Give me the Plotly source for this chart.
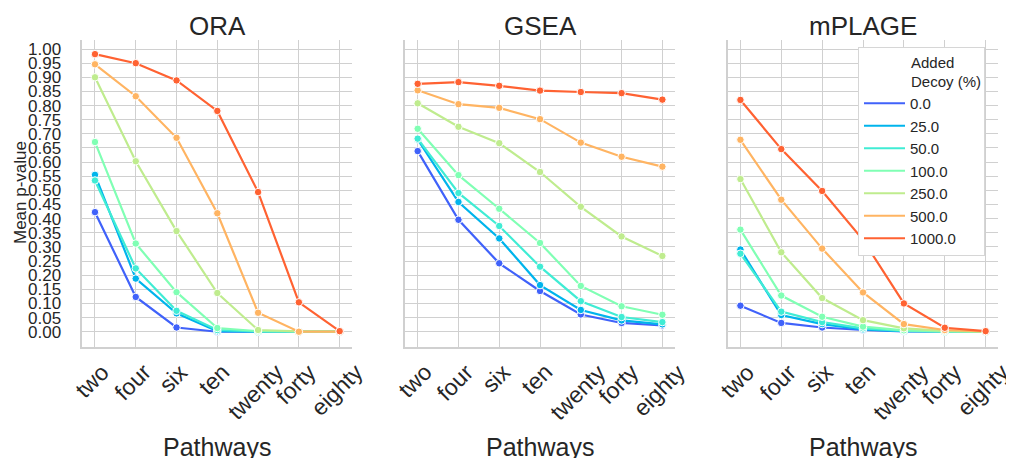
import plotly.graph_objects as go

pathways = ["two", "four", "six", "ten", "twenty", "forty", "eighty"]
decoys = ["0.0", "25.0", "50.0", "100.0", "250.0", "500.0", "1000.0"]
colors = ["#4062fa", "#00b4ec", "#40ecd4", "#80ffb4", "#bfec8e", "#ffb462", "#ff6232"]
methods = ["ORA", "GSEA", "mPLAGE"]

ora = [
    [0.423, 0.123, 0.015, 0.000, 0.000, 0.000, 0.000],
    [0.555, 0.188, 0.065, 0.002, 0.000, 0.000, 0.000],
    [0.535, 0.224, 0.074, 0.006, 0.001, 0.000, 0.000],
    [0.671, 0.312, 0.140, 0.013, 0.002, 0.000, 0.000],
    [0.900, 0.603, 0.356, 0.137, 0.006, 0.001, 0.000],
    [0.946, 0.833, 0.686, 0.419, 0.067, 0.000, 0.000],
    [0.982, 0.950, 0.889, 0.781, 0.494, 0.104, 0.002],
]
gsea = [
    [0.639, 0.396, 0.242, 0.144, 0.061, 0.031, 0.022],
    [0.680, 0.459, 0.330, 0.165, 0.077, 0.040, 0.026],
    [0.683, 0.491, 0.374, 0.230, 0.108, 0.052, 0.034],
    [0.718, 0.554, 0.435, 0.314, 0.162, 0.090, 0.060],
    [0.808, 0.725, 0.667, 0.565, 0.442, 0.337, 0.268],
    [0.854, 0.805, 0.792, 0.752, 0.669, 0.619, 0.584],
    [0.877, 0.883, 0.870, 0.853, 0.848, 0.844, 0.821],
]
mplage = [
    [0.092, 0.031, 0.015, 0.006, 0.001, 0.000, 0.000],
    [0.291, 0.059, 0.027, 0.008, 0.002, 0.000, 0.000],
    [0.276, 0.071, 0.034, 0.012, 0.003, 0.000, 0.000],
    [0.361, 0.128, 0.053, 0.018, 0.005, 0.001, 0.000],
    [0.540, 0.281, 0.119, 0.041, 0.012, 0.003, 0.000],
    [0.679, 0.467, 0.294, 0.139, 0.027, 0.006, 0.001],
    [0.820, 0.646, 0.498, 0.325, 0.100, 0.014, 0.002],
]
yticks = [round(i * 0.05, 2) for i in range(21)]

# the page body has an 8px margin, so the figure is laid out in a 1006x450 box
OFF = 8
W, H = 1014 - OFF, 458 - OFF


def px(x):
    return (x - OFF) / W


def py(y):
    return 1 - (y - OFF) / H


FONT = "Liberation Sans, Arial, sans-serif"
TXT = "#262626"
GRID = "#d0d0d0"

x_domains = [[px(82.3), px(352.3)], [px(405), px(675)], [px(727.7), px(998.3)]]
y_domain = [py(346.7), py(40)]
x_range = [-0.311, 6.31]
y_range = [-0.053, 1.032]

fig = go.Figure()
all_data = [ora, gsea, mplage]
for p, data in enumerate(all_data):
    xa = "x" if p == 0 else f"x{p+1}"
    ya = "y" if p == 0 else f"y{p+1}"
    for i, vals in enumerate(data):
        fig.add_trace(go.Scatter(
            x=pathways, y=vals, mode="lines+markers", xaxis=xa, yaxis=ya,
            line=dict(color=colors[i], width=2.2),
            marker=dict(color=colors[i], size=7.5, line=dict(color="white", width=1)),
            showlegend=False, legendgroup=decoys[i], name=decoys[i],
        ))

for i, d in enumerate(decoys):
    fig.add_trace(go.Scatter(
        x=[None], y=[None], mode="lines", xaxis="x3", yaxis="y3",
        line=dict(color=colors[i], width=2.2), name=d, legendgroup=d, showlegend=True,
    ))

NB = "\u00a0" * 12
layout = dict(
    width=W, height=H, autosize=False,
    margin=dict(l=0, r=0, t=0, b=0),
    paper_bgcolor="white", plot_bgcolor="white",
    font=dict(family=FONT, color=TXT),
    legend=dict(
        x=px(858), y=py(47), xanchor="left", yanchor="top",
        bgcolor="white", bordercolor="#d6d6d6", borderwidth=1,
        font=dict(size=15, family=FONT, color=TXT),
        itemwidth=41,
        title=dict(text=NB + "Added<br>" + NB + "Decoy (%)",
                   font=dict(size=15, family=FONT, color=TXT)),
        tracegroupgap=0,
    ),
)
annotations = []
for p in range(3):
    sfx = "" if p == 0 else str(p + 1)
    layout[f"xaxis{sfx}"] = dict(
        domain=x_domains[p], range=x_range, type="category",
        categoryorder="array", categoryarray=pathways,
        showgrid=True, gridcolor=GRID, gridwidth=1.2,
        showline=True, linecolor=GRID, linewidth=1.5,
        showticklabels=False, ticks="", zeroline=False,
        anchor="y" + sfx, fixedrange=True,
    )
    layout[f"yaxis{sfx}"] = dict(
        domain=y_domain, range=y_range, tickvals=yticks,
        ticktext=[f"{v:.2f}" for v in yticks],
        showgrid=True, gridcolor=GRID, gridwidth=1.2,
        showline=True, linecolor=GRID, linewidth=1.5,
        showticklabels=(p == 0), ticks="", zeroline=False,
        tickfont=dict(size=17, family=FONT, color=TXT),
        ticklabelstandoff=16,
        anchor="x" + sfx, fixedrange=True,
    )
    xc = (x_domains[p][0] + x_domains[p][1]) / 2
    annotations.append(dict(
        text=methods[p], x=xc, y=py(26.5), xref="paper", yref="paper",
        xanchor="center", yanchor="middle", showarrow=False,
        font=dict(size=26, family=FONT, color=TXT),
    ))
    annotations.append(dict(
        text="Pathways", x=xc, y=py(447), xref="paper", yref="paper",
        xanchor="center", yanchor="middle", showarrow=False,
        font=dict(size=25, family=FONT, color=TXT),
    ))
    for c in pathways:
        annotations.append(dict(
            text=c, x=c, y=py(356), xref="x" + sfx, yref="paper",
            xanchor="center", yanchor="top", textangle=-45, showarrow=False,
            xshift=-3,
            font=dict(size=23, family=FONT, color=TXT),
        ))
annotations.append(dict(
    text="Mean p-value", x=px(20), y=py(193), xref="paper", yref="paper",
    xanchor="center", yanchor="middle", textangle=-90, showarrow=False,
    font=dict(size=17, family=FONT, color=TXT),
))
layout["annotations"] = annotations
fig.update_layout(**layout)
fig.write_html("out.html")
